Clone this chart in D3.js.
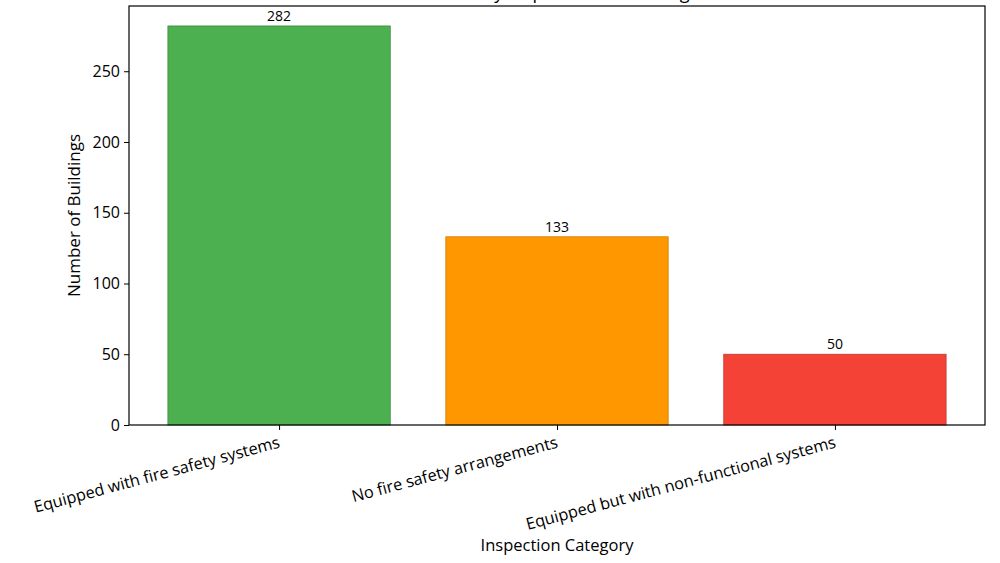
<!DOCTYPE html>
<html><head><meta charset="utf-8">
<script src="https://cdn.jsdelivr.net/npm/d3@7"></script>
<style>body{margin:0;background:#fff}svg{display:block}text{font-family:"Open Sans",sans-serif;fill:#000}</style>
</head><body><svg id="c" width="1000" height="563"></svg>
<script>
const categories = ["Equipped with fire safety systems", "No fire safety arrangements", "Equipped but with non-functional systems"];
const counts = [282, 133, 50];
const barColors = ["#4caf50", "#ff9800", "#f44336"];
const edgeColors = ["#3d8c40", "#cc7a00", "#c3362b"];
const yTicks = [0, 50, 100, 150, 200, 250];
const title = "Fire Safety Inspection of Buildings";

const svg = d3.select("#c");
const L = 129, R = 985, T = 6, B = 425;
const n = categories.length;
const x = d3.scaleLinear().domain([-0.54, n - 1 + 0.54]).range([L, R]);
const y = d3.scaleLinear().domain([0, d3.max(counts) * 1.05]).range([B, T]);
const bw = x(0.8) - x(0);

svg.append("text").attr("x", (L + R) / 2).attr("y", -1).attr("text-anchor", "middle")
  .style("font-size", "18px").text(title);

svg.selectAll("rect.bar").data(counts).join("rect").attr("class", "bar")
  .attr("x", (d, i) => x(i) - bw / 2).attr("width", bw)
  .attr("y", d => y(d)).attr("height", d => y(0) - y(d))
  .attr("fill", (d, i) => barColors[i]).attr("stroke", (d, i) => edgeColors[i]).attr("stroke-width", 0.8);

svg.selectAll("text.val").data(counts).join("text").attr("class", "val")
  .attr("x", (d, i) => x(i)).attr("y", d => y(d) - 5).attr("text-anchor", "middle")
  .style("font-size", "14px").text(d => d);

// y axis
const yAxis = svg.append("g").attr("transform", `translate(${L},0)`)
  .call(d3.axisLeft(y).tickValues(yTicks).tickSize(5).tickPadding(4));
yAxis.select(".domain").remove();
yAxis.selectAll("text").style("font-size", "16px").style("font-family", '"Open Sans",sans-serif');
yAxis.selectAll("line").attr("stroke", "#000");

// x axis ticks
const xAxis = svg.append("g").attr("transform", `translate(0,${B})`)
  .call(d3.axisBottom(x).tickValues(d3.range(n)).tickSize(5).tickFormat(""));
xAxis.select(".domain").remove();
xAxis.selectAll("line").attr("stroke", "#000");

svg.selectAll("text.xl").data(categories).join("text").attr("class", "xl")
  .attr("transform", (d, i) => `translate(${x(i) - 2},${B + 8}) rotate(-15)`)
  .attr("text-anchor", "end").attr("dy", "0.9em")
  .style("font-size", "16.3px").text(d => d);

// frame
svg.append("rect").attr("x", L).attr("y", T).attr("width", R - L).attr("height", B - T)
  .attr("fill", "none").attr("stroke", "#000").attr("stroke-width", 1.2);

svg.append("text").attr("x", (L + R) / 2).attr("y", 551).attr("text-anchor", "middle")
  .style("font-size", "16.5px").text("Inspection Category");
svg.append("text").attr("transform", `translate(80,${(T + B) / 2}) rotate(-90)`).attr("text-anchor", "middle")
  .style("font-size", "17px").text("Number of Buildings");
</script></body></html>
